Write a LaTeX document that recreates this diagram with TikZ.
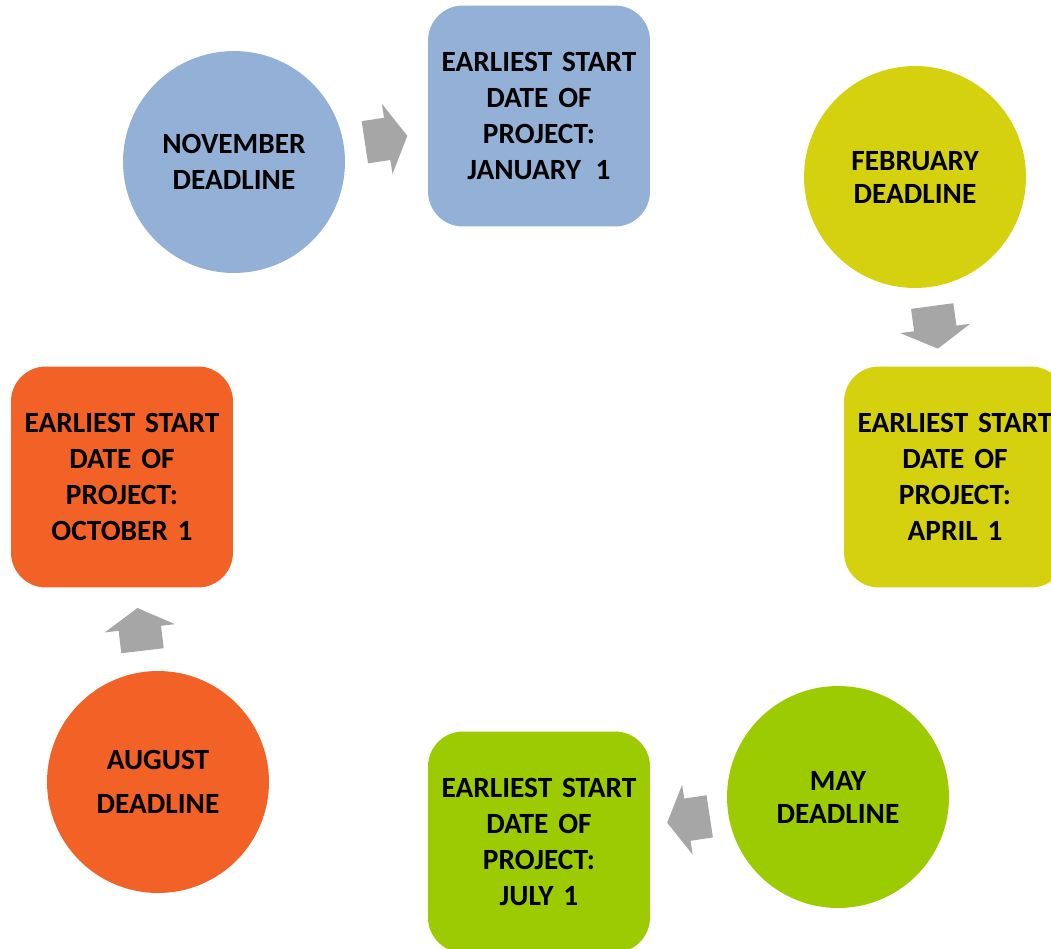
\documentclass[tikz,border=0pt]{standalone}
\usepackage{fontspec}
\setmainfont{Carlito}
\usetikzlibrary{shapes.arrows}

\definecolor{novblue}{HTML}{93B1D7}
\definecolor{febyellow}{HTML}{D6D10F}
\definecolor{maygreen}{HTML}{9BCB00}
\definecolor{augorange}{HTML}{F26125}
\definecolor{arrowgray}{HTML}{A6A6A6}

\tikzset{
        labelfont/.style={font=\fontsize{16.7}{20.5}\selectfont\bfseries},
        deadline/.style={circle, fill=#1, minimum size=4.44cm, inner sep=0pt,
                align=center, labelfont},
        startbox/.style={rectangle, rounded corners=0.7cm, fill=#1,
                minimum width=4.44cm, minimum height=4.42cm, inner sep=0pt,
                text width=4.3cm, align=center, labelfont},
        steparrow/.style={single arrow, fill=arrowgray, draw=none,
                inner xsep=0pt, inner ysep=0.42cm, minimum height=0.86cm,
                single arrow head extend=0.28cm, single arrow tip angle=120,
                pos=0.43, sloped, allow upside down}
}

\begin{document}
\begin{tikzpicture}[x=0.02cm, y=-0.02cm]
        \useasboundingbox (0, 0) rectangle (1051, 948);
        % deadlines
        \node[deadline=novblue] (nov) at (234, 162) {NOVEMBER\\DEADLINE};
        \node[deadline=febyellow] (feb) at (915, 177) {FEBRUARY\\[-1.7pt]DEADLINE};
        \node[deadline=maygreen] (may) at (838, 797) {MAY\\[-1.7pt]DEADLINE};
        \node[deadline=augorange] (aug) at (158, 782) {AUGUST\\[4.5pt]DEADLINE};
        % start dates
        \node[startbox=novblue] (jan) at (539, 116)
                {EARLIEST START\\DATE OF\\PROJECT:\\JANUARY\ \,1};
        \node[startbox=febyellow] (apr) at (955, 477)
                {EARLIEST START\\DATE OF\\PROJECT:\\APRIL 1};
        \node[startbox=maygreen] (jul) at (539, 842)
                {EARLIEST START\\DATE OF\\PROJECT:\\JULY 1};
        \node[startbox=augorange] (oct) at (122, 477)
                {EARLIEST START\\DATE OF\\PROJECT:\\OCTOBER 1};
        % arrows
        \path (nov) -- node[steparrow] {} (jan);
        \path (feb) -- node[steparrow] {} (apr);
        \path (may) -- node[steparrow] {} (jul);
        \path (aug) -- node[steparrow] {} (oct);
\end{tikzpicture}
\end{document}
